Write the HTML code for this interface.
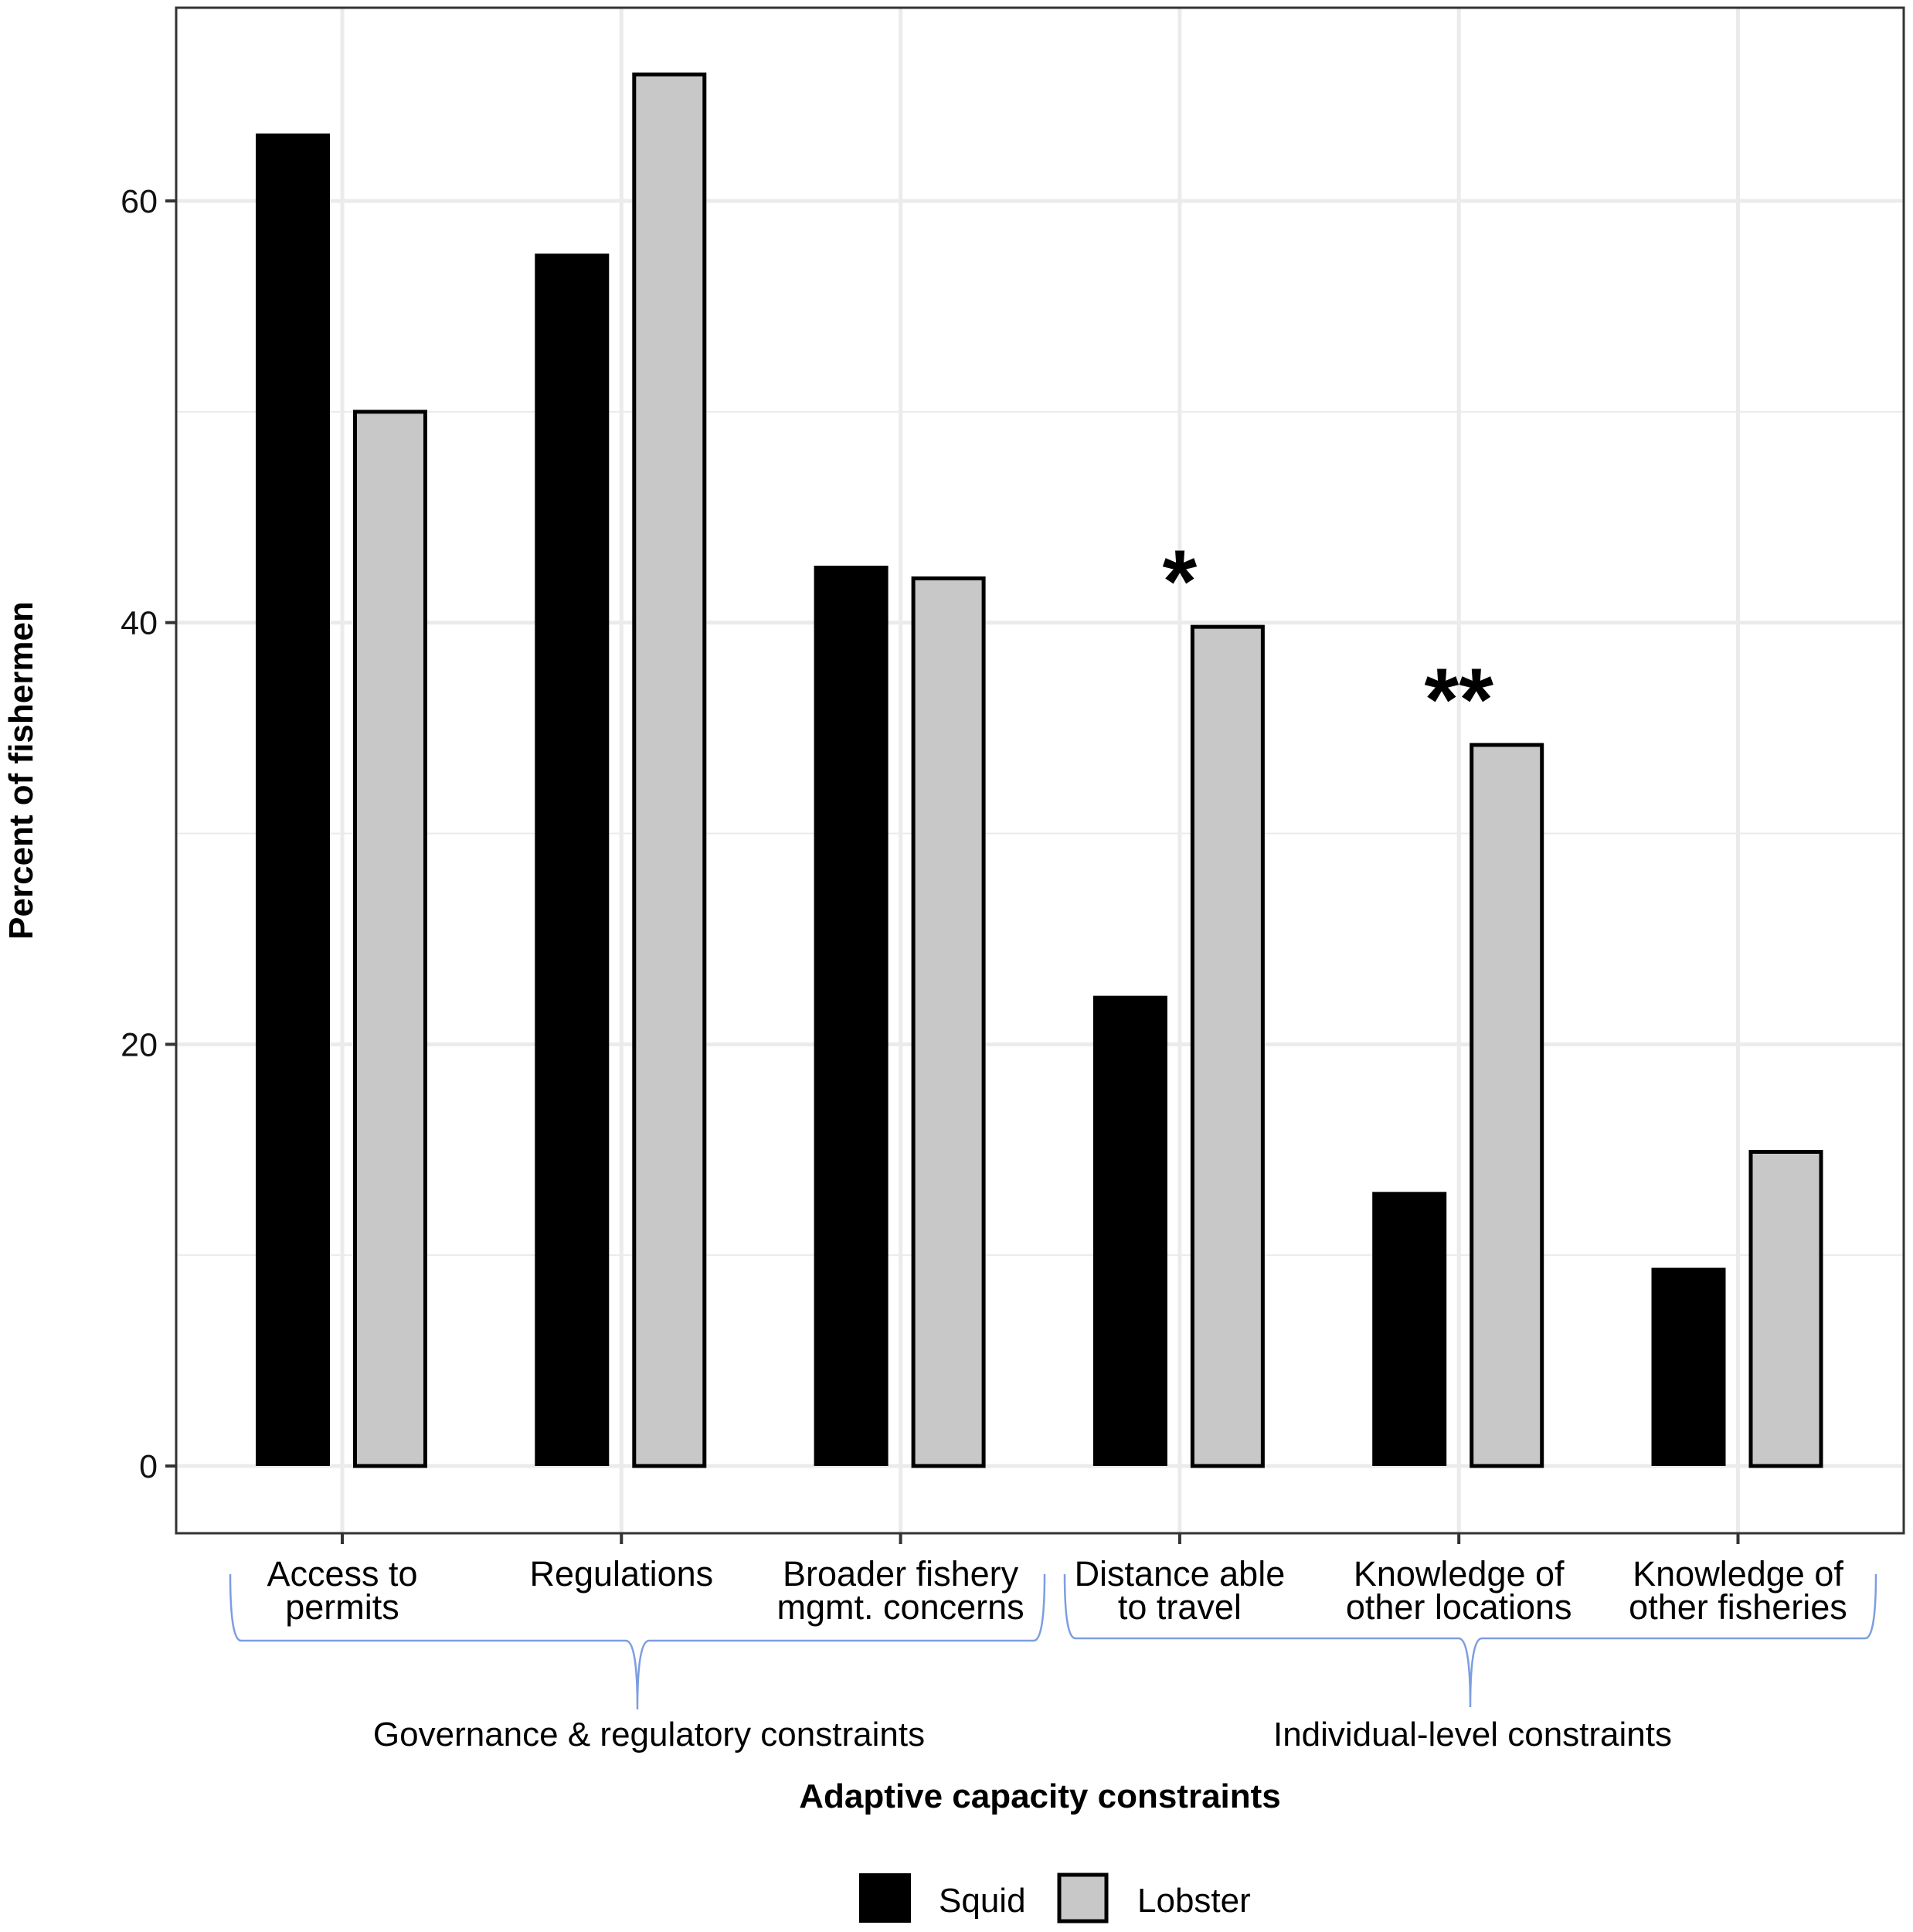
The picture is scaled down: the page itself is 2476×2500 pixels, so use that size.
<!DOCTYPE html>
<html><head><meta charset="utf-8"><style>
html,body{margin:0;padding:0;background:#fff;}
svg{display:block;font-family:"Liberation Sans",Arial,sans-serif;}
</style></head><body>
<svg id="chart" width="2476" height="2500" viewBox="0 0 2476 2500" xmlns="http://www.w3.org/2000/svg">
<rect x="0" y="0" width="2476" height="2500" fill="#fff"/>
<g id="grid"></g>
<g id="bars"></g>
<g id="axes"></g>
<g id="annot"></g>
<text x="0" y="0" transform="translate(42,997) rotate(-90)" text-anchor="middle" font-weight="bold" font-size="44">Percent of fishermen</text>
<text x="1346" y="2339" text-anchor="middle" font-weight="bold" font-size="44">Adaptive capacity constraints</text>
<path d="M298,2037 Q298,2123 312,2123 L810,2123 Q825,2123 825,2212 Q825,2123 840,2123 L1338,2123 Q1352,2123 1352,2037" fill="none" stroke="#7c9ee0" stroke-width="2.5"/>
<path d="M1378,2037 Q1378,2120 1392,2120 L1888,2120 Q1903,2120 1903,2209 Q1903,2120 1918,2120 L2414,2120 Q2428,2120 2428,2037" fill="none" stroke="#7c9ee0" stroke-width="2.5"/>
<text x="840" y="2259" text-anchor="middle" font-size="44">Governance &amp; regulatory constraints</text>
<text x="1906" y="2259" text-anchor="middle" font-size="44">Individual-level constraints</text>
<g>
<rect x="1112" y="2424" width="67" height="64" fill="#000"/>
<text x="1215" y="2474" font-size="44">Squid</text>
<rect x="1371" y="2426" width="61" height="60" fill="#c8c8c8" stroke="#000" stroke-width="5"/>
<text x="1472" y="2474" font-size="44">Lobster</text>
</g>
<script>
const categories=[["Access to","permits"],["Regulations"],["Broader fishery","mgmt. concerns"],["Distance able","to travel"],["Knowledge of","other locations"],["Knowledge of","other fisheries"]];
const squid=[63.2,57.5,42.7,22.3,13.0,9.4];
const lobster=[50.0,66.0,42.1,39.8,34.2,14.9];
const yTicks=[0,20,40,60];
const yMinor=[10,30,50];
const significance=["","","","*","**",""];
const NS="http://www.w3.org/2000/svg";
const L=228,R=2464,T=10,B=1984;
function y(v){return 1897-v*(1897-260)/60;}
function xc(i){return 443+i*361.3;}
function mk(tag,attrs,parent,txt){const e=document.createElementNS(NS,tag);for(const k in attrs)e.setAttribute(k,attrs[k]);if(txt!==undefined)e.textContent=txt;parent.appendChild(e);return e;}
const grid=document.getElementById('grid'),bars=document.getElementById('bars'),axes=document.getElementById('axes'),annot=document.getElementById('annot');
yMinor.forEach(v=>{const e=mk('line',{x1:L,x2:R,y1:y(v),y2:y(v),stroke:'#ebebeb','stroke-width':2},grid);

});
yTicks.forEach(v=>{const e=mk('line',{x1:L,x2:R,y1:y(v),y2:y(v),stroke:'#ebebeb','stroke-width':5},grid);

});
categories.forEach((c,i)=>{const e=mk('line',{x1:xc(i),x2:xc(i),y1:T,y2:B,stroke:'#ebebeb','stroke-width':5},grid);

});
const bw=96;
categories.forEach((c,i)=>{
 const sx=xc(i)-64-bw/2;
 const s=mk('rect',{x:sx,y:y(squid[i]),width:bw,height:y(0)-y(squid[i]),fill:'#000'},bars);
 
 
 const lw=91,lx=xc(i)+62-lw/2;
 const l=mk('rect',{x:lx,y:y(lobster[i]),width:lw,height:y(0)-y(lobster[i]),fill:'#c8c8c8',stroke:'#000','stroke-width':5},bars);
 
 
 const t=mk('line',{x1:xc(i),x2:xc(i),y1:B,y2:B+14,stroke:'#333','stroke-width':4},axes);
 
 
 const lab=mk('text',{x:xc(i),y:2052,'text-anchor':'middle','font-size':45},axes);
 
 
 c.forEach((ln,k)=>{mk('tspan',{x:xc(i),dy:k?43:0},lab,ln);});
 if(significance[i]){const a=mk('text',{x:xc(i),y:y(lobster[i])-19,'text-anchor':'middle','font-size':115,'font-weight':'bold'},annot,significance[i]);
 
 }
});
yTicks.forEach(v=>{const t=mk('line',{x1:L-14,x2:L,y1:y(v),y2:y(v),stroke:'#333','stroke-width':4},axes);


const lb=mk('text',{x:L-24,y:y(v)+15,'text-anchor':'end','font-size':43,fill:'#111'},axes,String(v));

});
const pb=mk('rect',{x:L,y:T,width:R-L,height:B-T,fill:'none',stroke:'#333','stroke-width':3},axes);


</script>
</svg>
</body></html>
